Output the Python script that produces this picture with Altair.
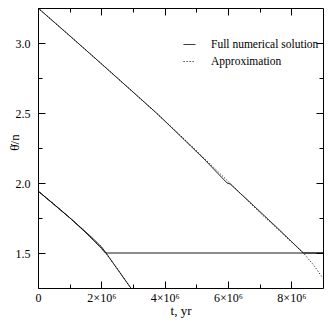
import altair as alt
import pandas as pd

# ---- data (t in years, value = theta-dot / n) ----
FULL_UP_T = [0, 1.0e6, 2.0e6, 3.0e6, 3.70e6, 3.75e6, 4.5e6, 5.25e6, 5.97e6, 6.07e6, 6.8e6, 7.6e6, 8.38e6, 9.0e6]
FULL_UP_V = [3.25, 3.052, 2.852, 2.65, 2.508, 2.498, 2.335, 2.17, 2.0, 1.993, 1.84, 1.67, 1.5, 1.5]

APPROX_UP_T = [0, 1e6, 2e6, 3e6, 4e6, 5e6, 6e6, 7e6, 8e6, 8.38e6, 8.7e6, 9.0e6]
APPROX_UP_V = [3.25, 3.052, 2.852, 2.65, 2.445, 2.232, 2.012, 1.79, 1.58, 1.5, 1.415, 1.32]

FULL_LOW_T = [0, 0.25e6, 0.5e6, 0.75e6, 1.0e6, 1.25e6, 1.5e6, 1.75e6, 2.0e6, 2.13e6, 9.0e6]
FULL_LOW_V = [1.943, 1.895, 1.848, 1.80, 1.752, 1.70, 1.647, 1.59, 1.533, 1.5, 1.5]

FULL_LOW2_T = [0, 0.5e6, 1.0e6, 1.5e6, 1.75e6, 2.0e6, 2.15e6, 2.5e6, 2.93e6]
FULL_LOW2_V = [1.943, 1.848, 1.752, 1.652, 1.60, 1.545, 1.5, 1.387, 1.25]

APPROX_LOW_T = [0, 0.5e6, 1.0e6, 1.5e6, 2.0e6, 2.5e6, 2.93e6]
APPROX_LOW_V = [1.943, 1.85, 1.752, 1.65, 1.54, 1.39, 1.25]

SERIES = ["Full numerical solution", "Approximation"]
X_MAJOR = [0, 2e6, 4e6, 6e6, 8e6]
X_MINOR = [1e6, 3e6, 5e6, 7e6]
Y_MAJOR = [1.5, 2.0, 2.5, 3.0]
Y_MINOR = [1.75, 2.25, 2.75]

rows = []
def add(ts, vs, series, curve):
    for t, v in zip(ts, vs):
        rows.append({"t": t, "v": v, "series": series, "curve": curve})

add(FULL_UP_T, FULL_UP_V, SERIES[0], "full_up")
add(FULL_LOW_T, FULL_LOW_V, SERIES[0], "full_low")
add(FULL_LOW2_T, FULL_LOW2_V, SERIES[0], "full_low2")
add(APPROX_UP_T, APPROX_UP_V, SERIES[1], "approx_up")
add(APPROX_LOW_T, APPROX_LOW_V, SERIES[1], "approx_low")
df = pd.DataFrame(rows)

FONT = "Liberation Serif"
XS = alt.Scale(domain=[0, 9e6], nice=False, zero=False)
YS = alt.Scale(domain=[1.25, 3.25], nice=False, zero=False)


def tick_axis(orient, values, size, **kw):
    base = dict(orient=orient, values=values, tickSize=size, offset=-size,
                domain=False, grid=False, tickColor="black", tickWidth=1,
                labels=False, title=None)
    base.update(kw)
    return alt.Axis(**base)


base = alt.Chart(df)

lines = base.mark_line(color="black", strokeWidth=1, clip=True).encode(
    x=alt.X("t:Q", scale=XS, axis=tick_axis(
        "bottom", X_MAJOR, 7, labels=True,
        labelExpr="datum.value == 0 ? '0' : (datum.value / 1000000) + '×10⁶'",
        labelFont=FONT, labelFontSize=12, labelColor="black", labelPadding=4,
        labelFlush=False, labelAngle=0,
        title="t, yr", titleFont=FONT, titleFontSize=13, titleFontWeight="normal",
        titleColor="black", titlePadding=1)),
    y=alt.Y("v:Q", scale=YS, axis=tick_axis(
        "left", Y_MAJOR, 7, labels=True, format=".1f",
        labelFont=FONT, labelFontSize=12, labelColor="black", labelPadding=8,
        labelFlush=False,
        title="θ̇/n", titleFont=FONT, titleFontSize=13, titleFontWeight="normal",
        titleColor="black", titleX=-31, titleY=134, titleAngle=270,
        titleAlign="center", titleBaseline="middle")),
    detail="curve:N",
    strokeDash=alt.StrokeDash(
        "series:N",
        scale=alt.Scale(domain=SERIES, range=[[1, 0], [1, 2]]),
        legend=alt.Legend(
            orient="none", legendX=145, legendY=30, title=None,
            symbolType="stroke", symbolSize=140, symbolStrokeWidth=1,
            symbolStrokeColor="black", labelFont=FONT, labelFontSize=11.5,
            labelColor="black", labelOffset=15, rowPadding=5, padding=0,
        ),
    ),
)

ghost = base.mark_point(opacity=0, size=1)

minor = ghost.encode(
    x=alt.X("t:Q", scale=XS, axis=tick_axis("bottom", X_MINOR, 4)),
    y=alt.Y("v:Q", scale=YS, axis=tick_axis("left", Y_MINOR, 4)),
)
top_right_major = ghost.encode(
    x=alt.X("t:Q", scale=XS, axis=tick_axis("top", X_MAJOR, 7)),
    y=alt.Y("v:Q", scale=YS, axis=tick_axis("right", Y_MAJOR, 7)),
)
top_right_minor = ghost.encode(
    x=alt.X("t:Q", scale=XS, axis=tick_axis("top", X_MINOR, 4)),
    y=alt.Y("v:Q", scale=YS, axis=tick_axis("right", Y_MINOR, 4)),
)

chart = (
    alt.layer(lines, minor, top_right_major, top_right_minor)
    .resolve_axis(x="independent", y="independent")
    .properties(
        width=285, height=280, autosize="none",
        padding={"left": 30, "top": 0, "right": 1, "bottom": 31},
        background="white",
    )
    .configure_view(stroke="black", strokeWidth=1)
)

chart.save("out.html", embed_options={"renderer": "svg", "actions": False})
